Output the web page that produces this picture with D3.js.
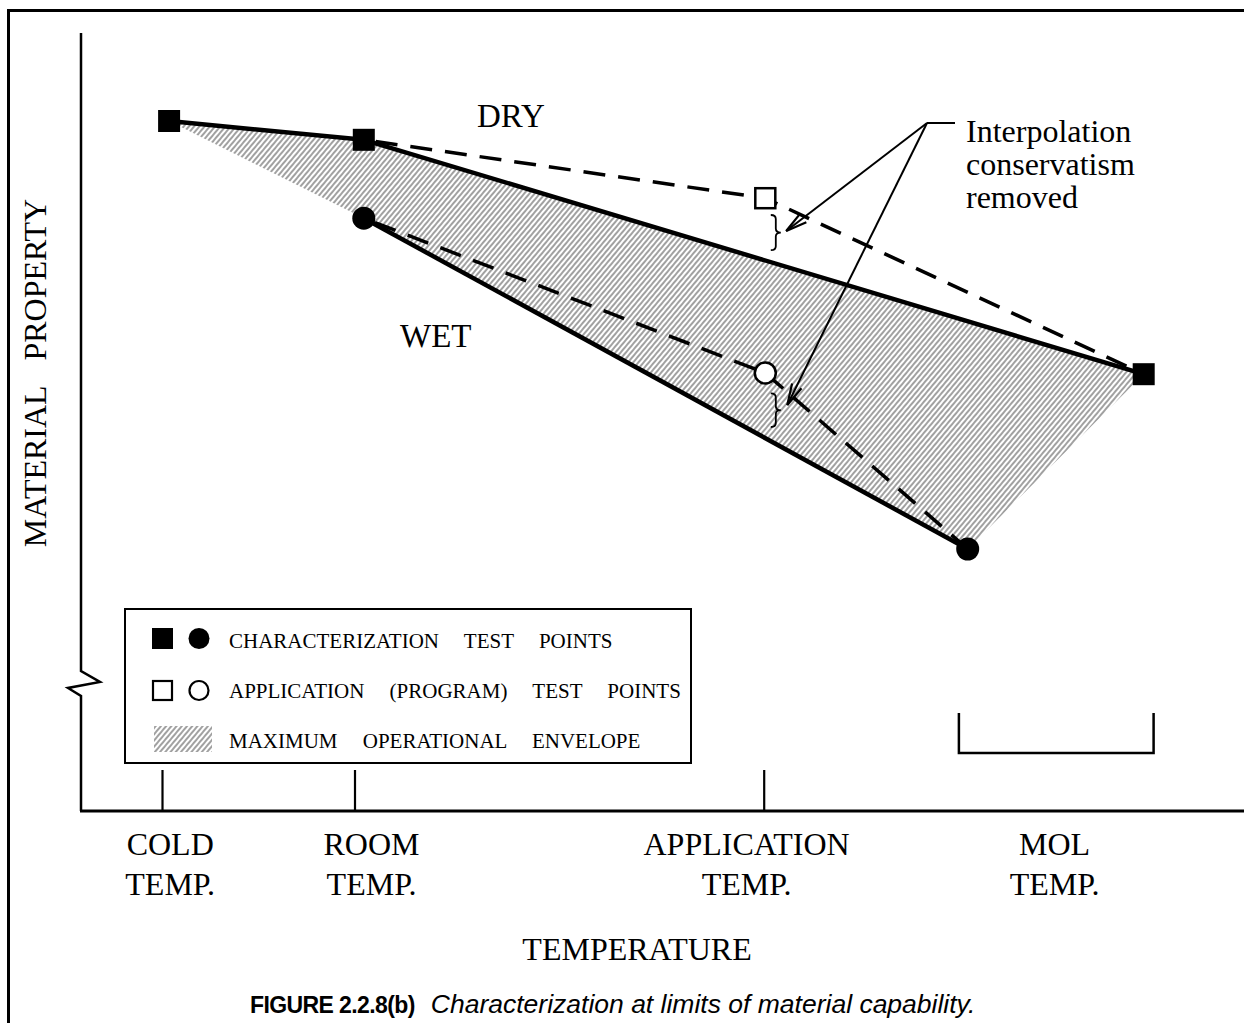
<!DOCTYPE html>
<html>
<head>
<meta charset="utf-8">
<script src="https://cdn.jsdelivr.net/npm/d3@7"></script>
<style>
  html, body { margin: 0; padding: 0; background: #fff; }
  svg { display: block; }
  text { font-family: "Liberation Serif", "Times New Roman", serif; fill: #000; }
  .caption { font-family: "Liberation Sans", Arial, sans-serif; }
</style>
</head>
<body>
<svg id="chart" width="1244" height="1023"></svg>
<script>
// ---- Temperature axis (arbitrary units) ----
const tickTemps = [7.5, 25, 62.2];                 // cold, room, application tick marks
const molBand = [79.9, 97.6];                      // MOL temperature band bracket
const tickLabels = [["COLD", "TEMP."], ["ROOM", "TEMP."], ["APPLICATION", "TEMP."], ["MOL", "TEMP."]];
const tickLabelTemps = [8.2, 26.5, 60.6, 88.6];

// ---- Characterization test points (material property, arbitrary units) ----
const dryChar = [{ t: 8.1, p: 86.25 }, { t: 25.8, p: 83.9 }, { t: 96.7, p: 54.6 }];
const wetChar = [{ t: 25.8, p: 74.1 }, { t: 80.7, p: 32.75 }];

// ---- Application (program) test points ----
const dryApp = [{ t: 62.3, p: 76.6 }];
const wetApp = [{ t: 62.3, p: 54.75 }];

// ---- Annotation: interpolation conservatism removed ----
const noteLines = ["Interpolation", "conservatism", "removed"];
const noteOrigin = { t: 77, p: 86 };
const noteTargets = [{ t: 64.2, p: 72.5 }, { t: 64.3, p: 50.75 }];
const braces = [{ t: 62.8, p0: 74.5, p1: 70.1 }, { t: 62.8, p0: 52.2, p1: 48.0 }];

const legendItems = ["CHARACTERIZATION TEST POINTS", "APPLICATION (PROGRAM) TEST POINTS", "MAXIMUM OPERATIONAL ENVELOPE"];

const W = 1244, H = 1023;
const svg = d3.select("#chart");

const x = d3.scaleLinear().domain([0, 100]).range([80, 1180]);
const y = d3.scaleLinear().domain([0, 100]).range([811, 11]);

// hatch pattern for the operational envelope
const defs = svg.append("defs");
const pat = defs.append("pattern")
  .attr("id", "hatch").attr("patternUnits", "userSpaceOnUse")
  .attr("width", 4).attr("height", 4)
  .attr("patternTransform", "rotate(40)");
pat.append("line").attr("x1", 2).attr("y1", 0).attr("x2", 2).attr("y2", 4)
  .attr("stroke", "#6e6e6e").attr("stroke-width", 1.3);

// outer frame (top and left edges)
svg.append("line").attr("x1", 7).attr("y1", 10.5).attr("x2", W).attr("y2", 10.5)
  .attr("stroke", "#000").attr("stroke-width", 3);
svg.append("line").attr("x1", 8.5).attr("y1", 9).attr("x2", 8.5).attr("y2", H)
  .attr("stroke", "#000").attr("stroke-width", 3);

// envelope polygon
const envelope = dryChar.concat(wetChar.slice().reverse());
svg.append("path")
  .attr("d", d3.line().x(d => x(d.t)).y(d => y(d.p))(envelope) + "Z")
  .attr("fill", "url(#hatch)").attr("stroke", "none");

// y axis with break
const yAxisX = x(0) + 1;
const yTop = y(97.25);
const brk = [[yAxisX, yTop], [yAxisX, 671], [100, 682], [68, 688], [yAxisX, 696], [yAxisX, y(0)]];
svg.append("path").attr("d", d3.line()(brk))
  .attr("fill", "none").attr("stroke", "#000").attr("stroke-width", 2.5);

// x axis
svg.append("line").attr("x1", yAxisX - 1).attr("x2", W).attr("y1", y(0)).attr("y2", y(0))
  .attr("stroke", "#000").attr("stroke-width", 3);
svg.selectAll(".tick").data(tickTemps).enter().append("line")
  .attr("x1", d => x(d)).attr("x2", d => x(d))
  .attr("y1", y(0)).attr("y2", y(0) - 41)
  .attr("stroke", "#000").attr("stroke-width", 2.2);
// MOL bracket
svg.append("path")
  .attr("d", d3.line()([[x(molBand[0]), 713], [x(molBand[0]), 753], [x(molBand[1]), 753], [x(molBand[1]), 713]]))
  .attr("fill", "none").attr("stroke", "#000").attr("stroke-width", 2.5);

// tick labels
tickLabels.forEach((lines, i) => {
  lines.forEach((s, j) => {
    svg.append("text").attr("x", x(tickLabelTemps[i])).attr("y", 855 + j * 40)
      .attr("text-anchor", "middle").attr("font-size", 32).text(s);
  });
});
svg.append("text").attr("x", 637).attr("y", 960).attr("text-anchor", "middle")
  .attr("font-size", 32).text("TEMPERATURE");
svg.append("text").attr("transform", "translate(46,373) rotate(-90)")
  .attr("text-anchor", "middle").attr("font-size", 32)
  .style("word-spacing", "18px").text("MATERIAL PROPERTY");

// lines
const line = d3.line().x(d => x(d.t)).y(d => y(d.p));
svg.append("path").attr("d", line(dryChar)).attr("fill", "none")
  .attr("stroke", "#000").attr("stroke-width", 4.5).attr("stroke-linejoin", "round");
svg.append("path").attr("d", line(wetChar)).attr("fill", "none")
  .attr("stroke", "#000").attr("stroke-width", 4.5);
const dryDash = [dryChar[1], dryApp[0], dryChar[2]];
const wetDash = [wetChar[0], wetApp[0], wetChar[1]];
[dryDash, wetDash].forEach(pts => {
  svg.append("path").attr("d", line(pts)).attr("fill", "none")
    .attr("stroke", "#000").attr("stroke-width", 3.5)
    .attr("stroke-dasharray", "22 13").attr("stroke-dashoffset", -12);
});

// markers
const sq = 22, sqOpen = 20;
svg.selectAll(".dsq").data(dryChar).enter().append("rect")
  .attr("x", d => x(d.t) - sq / 2).attr("y", d => y(d.p) - sq / 2)
  .attr("width", sq).attr("height", sq).attr("fill", "#000");
svg.selectAll(".wci").data(wetChar).enter().append("circle")
  .attr("cx", d => x(d.t)).attr("cy", d => y(d.p)).attr("r", 11.5).attr("fill", "#000");
svg.selectAll(".osq").data(dryApp).enter().append("rect")
  .attr("x", d => x(d.t) - sqOpen / 2).attr("y", d => y(d.p) - sqOpen / 2)
  .attr("width", sqOpen).attr("height", sqOpen)
  .attr("fill", "#fff").attr("stroke", "#000").attr("stroke-width", 2.5);
svg.selectAll(".oci").data(wetApp).enter().append("circle")
  .attr("cx", d => x(d.t)).attr("cy", d => y(d.p)).attr("r", 10.5)
  .attr("fill", "#fff").attr("stroke", "#000").attr("stroke-width", 2.5);

// series labels
svg.append("text").attr("x", 477).attr("y", 127).attr("font-size", 33).text("DRY");
svg.append("text").attr("x", 400).attr("y", 347).attr("font-size", 33).text("WET");

// braces
braces.forEach(b => {
  const bx = x(b.t), y0 = y(b.p0), y1 = y(b.p1), ym = (y0 + y1) / 2, w = 10, q = 4;
  const d = `M${bx},${y0} Q${bx + w / 2},${y0} ${bx + w / 2},${y0 + q} L${bx + w / 2},${ym - q} Q${bx + w / 2},${ym} ${bx + w},${ym} Q${bx + w / 2},${ym} ${bx + w / 2},${ym + q} L${bx + w / 2},${y1 - q} Q${bx + w / 2},${y1} ${bx},${y1}`;
  svg.append("path").attr("d", d).attr("fill", "none").attr("stroke", "#000").attr("stroke-width", 1.8);
});

// annotation leader and arrows
const ox = x(noteOrigin.t), oy = y(noteOrigin.p);
svg.append("line").attr("x1", ox).attr("y1", oy).attr("x2", ox + 28).attr("y2", oy)
  .attr("stroke", "#000").attr("stroke-width", 2);
noteTargets.forEach(tg => {
  const tx = x(tg.t), ty = y(tg.p);
  svg.append("line").attr("x1", ox).attr("y1", oy).attr("x2", tx).attr("y2", ty)
    .attr("stroke", "#000").attr("stroke-width", 2);
  const ang = Math.atan2(oy - ty, ox - tx), L = 22, spread = 0.24;
  const p1 = [tx + L * Math.cos(ang + spread), ty + L * Math.sin(ang + spread)];
  const p2 = [tx + L * Math.cos(ang - spread), ty + L * Math.sin(ang - spread)];
  svg.append("path").attr("d", `M${p1[0]},${p1[1]} L${tx},${ty} L${p2[0]},${p2[1]}`)
    .attr("fill", "none").attr("stroke", "#000").attr("stroke-width", 2.2);
});
noteLines.forEach((s, i) => {
  svg.append("text").attr("x", 966).attr("y", 142 + i * 33).attr("font-size", 32).text(s);
});

// legend
const lg = svg.append("g");
lg.append("rect").attr("x", 125).attr("y", 609).attr("width", 566).attr("height", 154)
  .attr("fill", "#fff").attr("stroke", "#000").attr("stroke-width", 2);
lg.append("rect").attr("x", 152).attr("y", 628).attr("width", 21).attr("height", 21).attr("fill", "#000");
lg.append("circle").attr("cx", 199).attr("cy", 638.5).attr("r", 10.5).attr("fill", "#000");
lg.append("rect").attr("x", 153).attr("y", 681).attr("width", 19).attr("height", 19)
  .attr("fill", "#fff").attr("stroke", "#000").attr("stroke-width", 2.2);
lg.append("circle").attr("cx", 199).attr("cy", 690.5).attr("r", 9.5)
  .attr("fill", "#fff").attr("stroke", "#000").attr("stroke-width", 2.2);
lg.append("rect").attr("x", 154).attr("y", 726).attr("width", 58).attr("height", 26).attr("fill", "url(#hatch)");
legendItems.forEach((s, i) => {
  lg.append("text").attr("x", 229).attr("y", 648 + i * 50).attr("font-size", 21)
    .style("word-spacing", "20px").text(s);
});

// caption
const cap = svg.append("text").attr("class", "caption").attr("x", 250).attr("y", 1013);
cap.append("tspan").attr("font-weight", "bold").attr("font-size", 23)
  .style("letter-spacing", "-0.6px").text("FIGURE 2.2.8(b)");
cap.append("tspan").attr("dx", 16).attr("font-style", "italic").attr("font-size", 26.5)
  .text("Characterization at limits of material capability.");
</script>
</body>
</html>
